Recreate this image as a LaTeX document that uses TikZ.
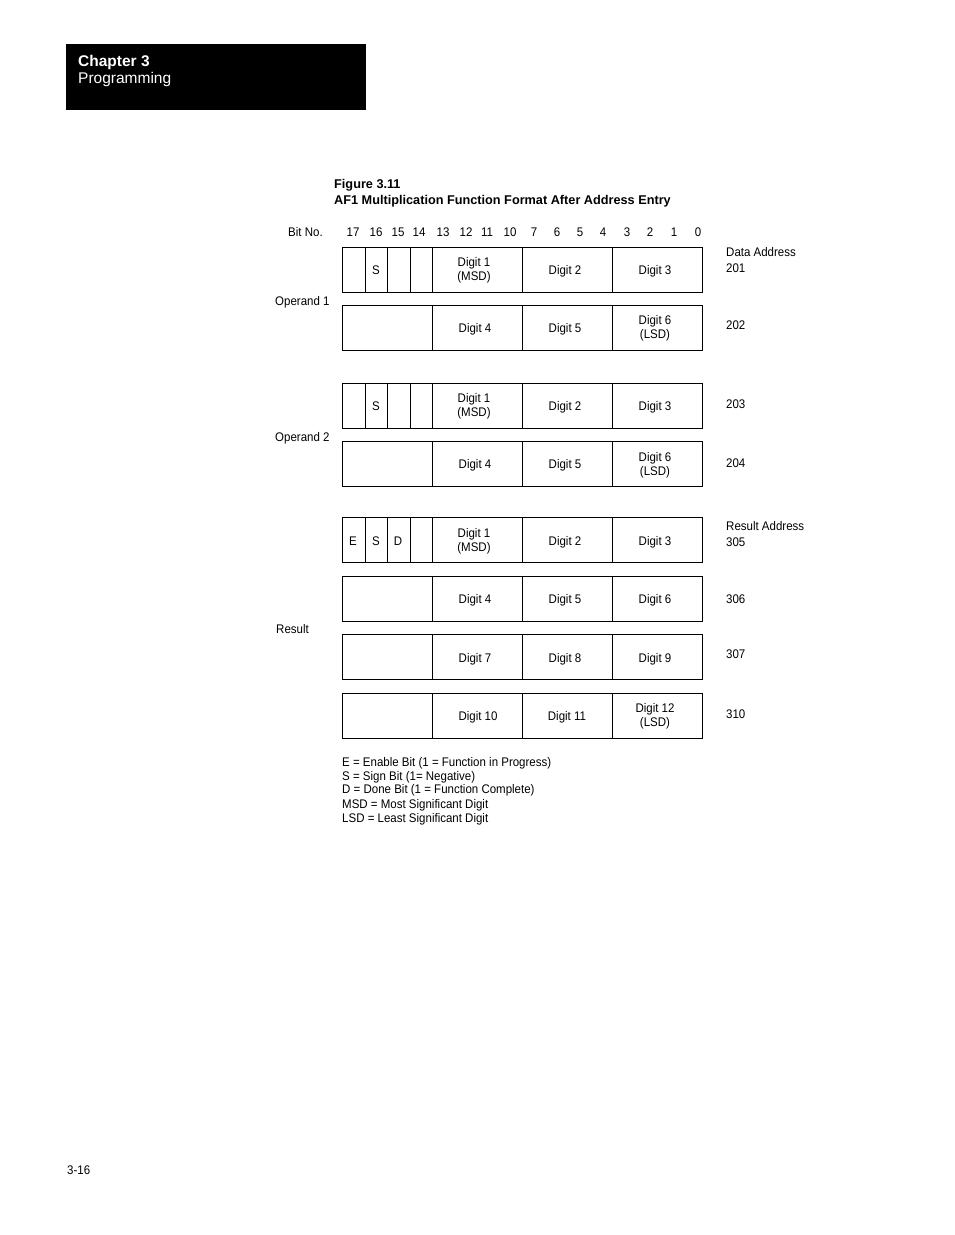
\documentclass[tikz,border=0pt]{standalone}
\usepackage{fontspec}
\setmainfont{Liberation Sans}[FakeStretch=0.92]
\newfontfamily\headfont{Liberation Sans}
\usetikzlibrary{positioning}

\tikzset{
  cellline/.style={line width=0.8pt},
  txt/.style={anchor=base, inner sep=0pt, font=\fontsize{12.5}{14}\selectfont},
  lefttxt/.style={txt, anchor=base west},
  titletxt/.style={lefttxt, font=\headfont\fontsize{12.7}{14}\selectfont\bfseries},
  headtxt/.style={lefttxt, text=white, font=\headfont\fontsize{15.5}{17}\selectfont}
}

% one register word: #1 = top edge, #2 = 1 when the four bit cells are split
\newcommand{\wordframe}[2]{%
  \draw[cellline] (342,#1) rectangle (702,#1+45);
  \foreach \xx in {432,522,612} \draw[cellline] (\xx,#1) -- (\xx,#1+45);
  \ifnum#2=1 \foreach \xx in {365,387.5,410} \draw[cellline] (\xx,#1) -- (\xx,#1+45);\fi
}

\begin{document}
\begin{tikzpicture}[x=1pt,y=-1pt]
\useasboundingbox (0,0) rectangle (954,1235);

% page header
\fill (66,44) rectangle (366,110);
\node[headtxt, font=\headfont\fontsize{15.5}{17}\selectfont\bfseries] (chap) at (78,66) {Chapter 3};
\node[headtxt] (prog) at (78,83) {Programming};

% figure title
\node[titletxt] (fig) at (334,188.5) {Figure 3.11};
\node[titletxt] (figname) at (334,204.5) {AF1 Multiplication Function Format After Address Entry};

% bit numbers
\node[lefttxt] (bitno) at (288,236.5) {Bit No.};
\foreach \xx/\bb in {353/17,376/16,398/15,419/14,443/13,466/12,487/11,510/10,
                     534/7,557/6,580/5,603/4,627/3,650/2,674/1,698/0}
  \node[txt] (bit\bb) at (\xx,236.5) {\bb};

% operand 1
\wordframe{247}{1}
\wordframe{305.5}{0}
\node[txt] (o1s) at (376,274) {S};
\node[txt] (o1d1) at (474,266.5) {Digit 1};
\node[txt] (o1msd) at (474,280.5) {(MSD)};
\node[txt] (o1d2) at (565,274) {Digit 2};
\node[txt] (o1d3) at (655,274) {Digit 3};
\node[txt] (o1d4) at (475,332.5) {Digit 4};
\node[txt] (o1d5) at (565,332.5) {Digit 5};
\node[txt] (o1d6) at (655,324.5) {Digit 6};
\node[txt] (o1lsd) at (655,338.5) {(LSD)};
\node[lefttxt] (op1) at (275,305.5) {Operand 1};
\node[lefttxt] (dataaddr) at (726,256.5) {Data Address};
\node[lefttxt] (a201) at (726,272.5) {201};
\node[lefttxt] (a202) at (726,329.5) {202};

% operand 2
\wordframe{383.5}{1}
\wordframe{441.5}{0}
\node[txt] (o2s) at (376,410.5) {S};
\node[txt] (o2d1) at (474,402.5) {Digit 1};
\node[txt] (o2msd) at (474,416.5) {(MSD)};
\node[txt] (o2d2) at (565,410.5) {Digit 2};
\node[txt] (o2d3) at (655,410.5) {Digit 3};
\node[txt] (o2d4) at (475,468.5) {Digit 4};
\node[txt] (o2d5) at (565,468.5) {Digit 5};
\node[txt] (o2d6) at (655,461) {Digit 6};
\node[txt] (o2lsd) at (655,475) {(LSD)};
\node[lefttxt] (op2) at (275,441.5) {Operand 2};
\node[lefttxt] (a203) at (726,408.5) {203};
\node[lefttxt] (a204) at (726,467.5) {204};

% result
\wordframe{517.5}{1}
\wordframe{576}{0}
\wordframe{634.5}{0}
\wordframe{693}{0}
\node[txt] (re) at (353,545) {E};
\node[txt] (rs) at (376,545) {S};
\node[txt] (rd) at (398,545) {D};
\node[txt] (rd1) at (474,537.5) {Digit 1};
\node[txt] (rmsd) at (474,551.5) {(MSD)};
\node[txt] (rd2) at (565,545) {Digit 2};
\node[txt] (rd3) at (655,545) {Digit 3};
\node[txt] (rd4) at (475,603.5) {Digit 4};
\node[txt] (rd5) at (565,603.5) {Digit 5};
\node[txt] (rd6) at (655,603.5) {Digit 6};
\node[txt] (rd7) at (475,662) {Digit 7};
\node[txt] (rd8) at (565,662) {Digit 8};
\node[txt] (rd9) at (655,662) {Digit 9};
\node[txt] (rd10) at (478,720.5) {Digit 10};
\node[txt] (rd11) at (567,720.5) {Digit 11};
\node[txt] (rd12) at (655,712.5) {Digit 12};
\node[txt] (rlsd) at (655,726.5) {(LSD)};
\node[lefttxt] (res) at (276,633.5) {Result};
\node[lefttxt] (resaddr) at (726,530.5) {Result Address};
\node[lefttxt] (a305) at (726,546.5) {305};
\node[lefttxt] (a306) at (726,603.5) {306};
\node[lefttxt] (a307) at (726,658.5) {307};
\node[lefttxt] (a310) at (726,718.5) {310};

% legend
\node[lefttxt] (leg1) at (342,766.5) {E = Enable Bit (1 = Function in Progress)};
\node[lefttxt] (leg2) at (342,780.5) {S = Sign Bit (1= Negative)};
\node[lefttxt] (leg3) at (342,793.5) {D = Done Bit (1 = Function Complete)};
\node[lefttxt] (leg4) at (342,808.5) {MSD = Most Significant Digit};
\node[lefttxt] (leg5) at (342,822.5) {LSD = Least Significant Digit};

% page number
\node[lefttxt] (page) at (67,1174.5) {3-16};
\end{tikzpicture}
\end{document}
